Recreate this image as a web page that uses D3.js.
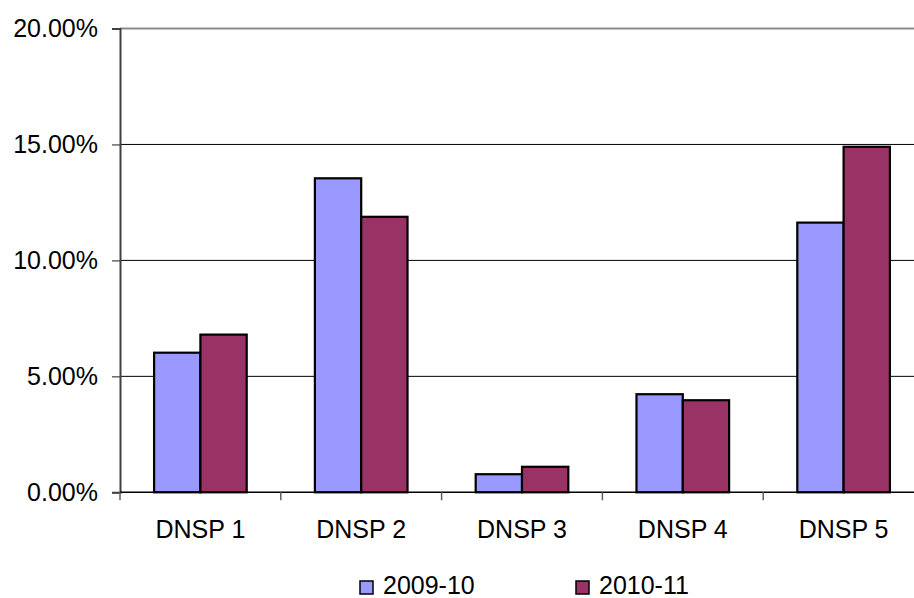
<!DOCTYPE html>
<html>
<head>
<meta charset="utf-8">
<script src="https://cdn.jsdelivr.net/npm/d3@7"></script>
<style>
  html, body { margin: 0; padding: 0; background: #fff; }
  svg { display: block; }
  text { font-family: "Liberation Sans", Arial, sans-serif; fill: #000; }
</style>
</head>
<body>
<svg id="chart" width="914" height="598"></svg>
<script>
// Share of each DNSP, two reporting years
const categories = ["DNSP 1", "DNSP 2", "DNSP 3", "DNSP 4", "DNSP 5"];
const seriesNames = ["2009-10", "2010-11"];
const values2009 = [0.0602, 0.1354, 0.0078, 0.0423, 0.1163];
const values2010 = [0.0680, 0.1188, 0.0110, 0.0397, 0.1490];
const yTicks = [0, 0.05, 0.10, 0.15, 0.20];
const colors = ["#9999FF", "#993366"];

const svg = d3.select("#chart");
const W = 914, H = 598;
const plotLeft = 120, plotRight = 924, plotTop = 28.5, plotBottom = 492.3;
const fontSize = "25px";

const x0 = d3.scaleBand().domain(categories).range([plotLeft, plotRight]).padding(0);
const bw = x0.bandwidth();
const x1 = d3.scaleBand().domain(seriesNames).range([bw * 0.212, bw * 0.788]).padding(0);
const y = d3.scaleLinear().domain([0, 0.20]).range([plotBottom, plotTop]);
const fmt = d3.format(".2%");

// horizontal gridlines
svg.append("g")
  .selectAll("line")
  .data(yTicks.filter(d => d > 0))
  .join("line")
  .attr("x1", plotLeft).attr("x2", W)
  .attr("y1", d => y(d)).attr("y2", d => y(d))
  .attr("stroke", d => d === 0.20 ? "#8a8a8a" : "#000")
  .attr("stroke-width", d => d === 0.20 ? 2 : 1);

// y axis
const yAxis = svg.append("g")
  .attr("transform", `translate(${plotLeft},0)`)
  .call(d3.axisLeft(y).tickValues(yTicks).tickFormat(fmt).tickSize(8).tickPadding(14));
yAxis.select(".domain").attr("stroke", "#404040").attr("stroke-width", 2);
yAxis.selectAll(".tick line").attr("stroke", "#404040").attr("stroke-width", 1.2);
yAxis.selectAll(".tick text")
  .style("font-family", "'Liberation Sans', Arial, sans-serif")
  .style("font-size", fontSize).attr("fill", "#000");

// bars
const rows = categories.map((c, i) => ({ cat: c, vals: [values2009[i], values2010[i]] }));
const groups = svg.append("g").selectAll("g")
  .data(rows)
  .join("g")
  .attr("transform", d => `translate(${x0(d.cat)},0)`);
groups.selectAll("rect")
  .data(d => d.vals.map((v, k) => ({ name: seriesNames[k], v, k })))
  .join("rect")
  .attr("x", d => x1(d.name))
  .attr("width", x1.bandwidth())
  .attr("y", d => y(d.v))
  .attr("height", d => y(0) - y(d.v))
  .attr("fill", d => colors[d.k])
  .attr("stroke", "#000")
  .attr("stroke-width", 2.2);

// x axis
svg.append("line")
  .attr("x1", plotLeft).attr("x2", W)
  .attr("y1", plotBottom).attr("y2", plotBottom)
  .attr("stroke", "#000").attr("stroke-width", 1.5);
const boundaries = categories.map(c => x0(c));
svg.append("g").selectAll("line")
  .data(boundaries)
  .join("line")
  .attr("x1", d => d).attr("x2", d => d)
  .attr("y1", plotBottom).attr("y2", plotBottom + 8)
  .attr("stroke", "#606060").attr("stroke-width", 1.5);
svg.append("g").selectAll("text")
  .data(categories)
  .join("text")
  .attr("x", d => x0(d) + bw / 2)
  .attr("y", 538)
  .attr("text-anchor", "middle")
  .style("font-size", fontSize)
  .text(d => d);

// legend
const legendX = [360, 576];
const legend = svg.append("g").selectAll("g")
  .data(seriesNames)
  .join("g")
  .attr("transform", (d, i) => `translate(${legendX[i]},581)`);
legend.append("rect")
  .attr("width", 13).attr("height", 13)
  .attr("fill", (d, i) => colors[i])
  .attr("stroke", "#000").attr("stroke-width", 1.5);
legend.append("text")
  .attr("x", 23).attr("y", 13)
  .style("font-size", fontSize)
  .text(d => d);
</script>
</body>
</html>
